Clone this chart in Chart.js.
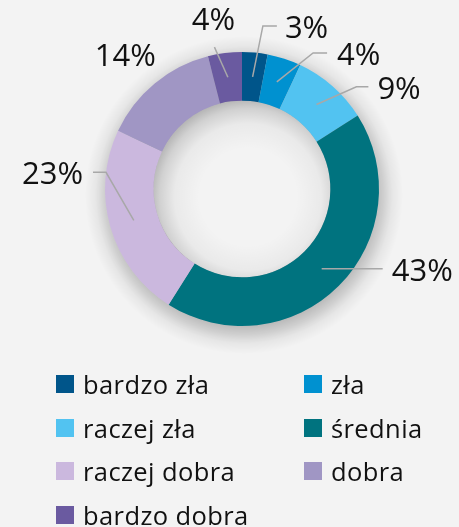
<!DOCTYPE html>
<html>
<head>
<meta charset="utf-8">
<script src="https://cdn.jsdelivr.net/npm/chart.js@4.4.1/dist/chart.umd.min.js"></script>
<style>
  html, body { margin: 0; padding: 0; background: #f3f3f3; }
  #wrap { position: relative; width: 459px; height: 527px; overflow: hidden; }
  #chart { position: absolute; left: 0; top: 0; }
  #legend {
    position: absolute; left: 56px; top: 369px;
    display: grid; grid-template-columns: 248px 150px; grid-auto-rows: 43.7px;
    font-family: "Open Sans", sans-serif; font-size: 25.5px; letter-spacing: 0.4px; color: #111;
  }
  .item { display: flex; align-items: center; height: 30px; white-space: nowrap; }
  .box { width: 18px; height: 18px; margin-right: 9px; flex: none; }
</style>
</head>
<body>
<div id="wrap">
  <canvas id="chart" width="459" height="527"></canvas>
  <div id="legend"></div>
</div>
<script>
// -----------------------------
// Data
// -----------------------------
const categories = ["bardzo zła", "zła", "raczej zła", "średnia", "raczej dobra", "dobra", "bardzo dobra"];
const shares = [3, 4, 9, 43, 23, 14, 4];
const colors = ["#00558a", "#0091d0", "#52c3f1", "#00737f", "#cbb8de", "#a096c4", "#6a5aa0"];

// Label placement (angle clockwise from top in deg, elbow radius as fraction of outer radius,
// horizontal leg in px; null angle = start at the slice middle)
const labelLayout = [
  { ang: 7.3, r: 1.20, leg: 14, gap: 8 },
  { ang: 27.6, r: 1.12, leg: 14, gap: 10 },
  { ang: 48.2, r: 1.12, leg: 12, gap: 9 },
  { ang: null, r: null, leg: 61, gap: 9 },
  { ang: 277, r: 1.0, leg: -13, gap: 10 },
  { ang: 318.7, r: 1.29, leg: 0, noLine: true },
  { ang: 349, r: 1.055, leg: 0, above: 27 }
];

// -----------------------------
// Plugins
// -----------------------------
// soft shadow around the ring and inside the hole (radial gradients)
const ringShadow = {
  id: "ringShadow",
  beforeDatasetsDraw(chart) {
    const arc = chart.getDatasetMeta(0).data[0];
    if (!arc) return;
    const cx = arc.x, cy = arc.y;
    const R = arc.outerRadius, r = arc.innerRadius;
    const ctx = chart.ctx;
    ctx.save();

    // outer drop shadow, shifted down a bit
    const ox = cx + 2, oy = cy + 6;
    const g1 = ctx.createRadialGradient(ox, oy, R - 14, ox, oy, R + 22);
    g1.addColorStop(0, "rgba(0,0,0,0.30)");
    g1.addColorStop(0.4, "rgba(0,0,0,0.17)");
    g1.addColorStop(0.7, "rgba(0,0,0,0.05)");
    g1.addColorStop(1, "rgba(0,0,0,0)");
    ctx.fillStyle = g1;
    ctx.beginPath();
    ctx.arc(ox, oy, R + 22, 0, Math.PI * 2);
    ctx.fill();

    // repaint the hole, then inner shadow
    ctx.beginPath();
    ctx.arc(cx, cy, r, 0, Math.PI * 2);
    ctx.fillStyle = "#f3f3f3";
    ctx.fill();
    ctx.clip();
    const ix = cx + 6, iy = cy + 8;
    const g2 = ctx.createRadialGradient(ix, iy, r - 40, ix, iy, r + 10);
    g2.addColorStop(0, "rgba(0,0,0,0)");
    g2.addColorStop(0.5, "rgba(0,0,0,0.04)");
    g2.addColorStop(0.8, "rgba(0,0,0,0.14)");
    g2.addColorStop(1, "rgba(0,0,0,0.26)");
    ctx.fillStyle = g2;
    ctx.fillRect(cx - r, cy - r, 2 * r, 2 * r);
    ctx.restore();
  }
};

const leaderLabels = {
  id: "leaderLabels",
  afterDatasetsDraw(chart) {
    const ctx = chart.ctx;
    const arcs = chart.getDatasetMeta(0).data;
    ctx.save();
    ctx.font = '400 31px "Open Sans", sans-serif';
    ctx.fillStyle = "#111";
    ctx.strokeStyle = "#a8a8a8";
    ctx.lineWidth = 1.5;
    arcs.forEach((arc, i) => {
      const L = labelLayout[i];
      const cx = arc.x, cy = arc.y;
      const mid = (arc.startAngle + arc.endAngle) / 2;
      const rMid = (arc.innerRadius + arc.outerRadius) / 2;
      const sx = cx + Math.cos(mid) * rMid;
      const sy = cy + Math.sin(mid) * rMid;
      let ex = sx, ey = sy;
      if (L.ang !== null) {
        const a = L.ang * Math.PI / 180 - Math.PI / 2;
        ex = cx + Math.cos(a) * arc.outerRadius * L.r;
        ey = cy + Math.sin(a) * arc.outerRadius * L.r;
      }
      const text = shares[i] + "%";
      if (L.noLine) {
        ctx.textAlign = "center";
        ctx.textBaseline = "middle";
        ctx.fillText(text, ex, ey + 1);
        return;
      }
      const hx = ex + L.leg;
      ctx.beginPath();
      ctx.moveTo(sx, sy);
      ctx.lineTo(ex, ey);
      if (L.leg !== 0) ctx.lineTo(hx, ey);
      ctx.stroke();
      ctx.textBaseline = "middle";
      if (L.above) {
        ctx.textAlign = "center";
        ctx.fillText(text, ex - 1, ey - L.above + 1);
      } else if (L.leg >= 0) {
        ctx.textAlign = "left";
        ctx.fillText(text, hx + L.gap, ey + 3);
      } else {
        ctx.textAlign = "right";
        ctx.fillText(text, hx - L.gap, ey + 3);
      }
    });
    ctx.restore();
  }
};

// -----------------------------
// Chart
// -----------------------------
new Chart(document.getElementById("chart"), {
  type: "doughnut",
  data: {
    labels: categories,
    datasets: [{
      data: shares,
      backgroundColor: colors,
      borderWidth: 0,
      hoverOffset: 0
    }]
  },
  options: {
    responsive: false,
    animation: false,
    cutout: "64.5%",
    layout: { padding: { left: 105, right: 80, top: 52, bottom: 201 } },
    plugins: {
      legend: { display: false },
      tooltip: { enabled: false }
    }
  },
  plugins: [ringShadow, leaderLabels]
});

// Legend (two columns)
const legend = document.getElementById("legend");
categories.forEach((name, i) => {
  const item = document.createElement("div");
  item.className = "item";
  item.innerHTML = `<span class="box" style="background:${colors[i]}"></span><span>${name}</span>`;
  legend.appendChild(item);
});
</script>
</body>
</html>
